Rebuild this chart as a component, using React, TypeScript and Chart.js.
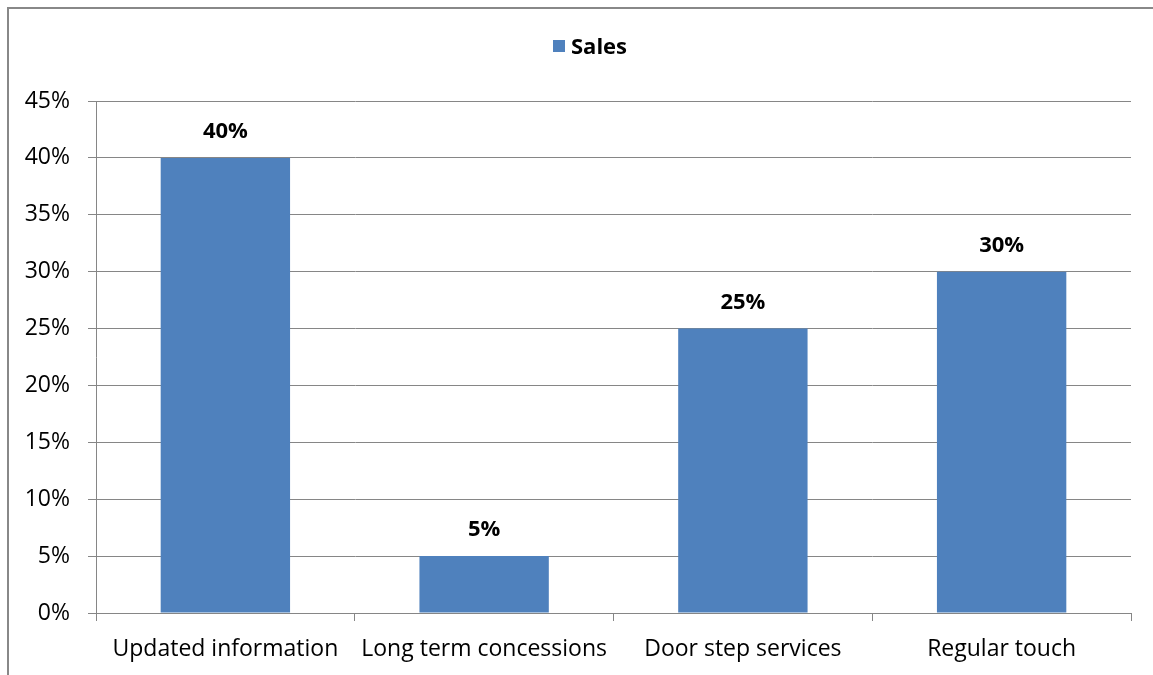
import React, { useEffect, useRef } from "react";
import { Chart, registerables } from "chart.js";

Chart.register(...registerables);

const categories = ["Updated information", "Long term concessions", "Door step services", "Regular touch"];
const seriesName = "Sales";
const salesValues = [40, 5, 25, 30];
const yMin = 0;
const yMax = 45;
const yStep = 5;

const FONT = "'Open Sans', sans-serif";
const FONT_SIZE = 23;
const BOLD_SIZE = 22;
const BAR_COLOR = "#4F81BD";
const GRID_COLOR = "#868686";

const decorPlugin = {
  id: "decor",
  beforeDraw(chart: any) {
    const ctx = chart.ctx;
    ctx.save();
    ctx.fillStyle = "#ffffff";
    ctx.fillRect(0, 0, chart.width, chart.height);
    ctx.strokeStyle = "#888888";
    ctx.lineWidth = 2;
    ctx.beginPath();
    ctx.moveTo(8, chart.height + 5);
    ctx.lineTo(8, 8);
    ctx.lineTo(chart.width + 5, 8);
    ctx.stroke();
    ctx.restore();
  },
  afterDatasetsDraw(chart: any) {
    const ctx = chart.ctx;
    ctx.save();
    // data labels
    const meta = chart.getDatasetMeta(0);
    const ds = chart.data.datasets[0];
    ctx.font = `bold ${BOLD_SIZE}px ${FONT}`;
    ctx.fillStyle = "#000000";
    ctx.textAlign = "center";
    ctx.textBaseline = "middle";
    meta.data.forEach((el: any, i: number) => {
      ctx.fillText(`${ds.data[i]}%`, el.x, el.y - 26);
    });
    // legend
    const label = ds.label;
    const tw = ctx.measureText(label).width;
    const total = 12 + 6 + tw;
    const cx = 590;
    const sx = cx - total / 2;
    ctx.fillStyle = BAR_COLOR;
    ctx.fillRect(Math.round(sx), 40, 12, 12);
    ctx.fillStyle = "#000000";
    ctx.textAlign = "left";
    ctx.fillText(label, sx + 18, 48);
    ctx.restore();
  },
};

export default function App() {
  const ref = useRef<HTMLCanvasElement | null>(null);
  useEffect(() => {
    if (!ref.current) return;
    const chart = new Chart(ref.current, {
      type: "bar",
      data: {
        labels: categories,
        datasets: [
          {
            label: seriesName,
            data: salesValues,
            backgroundColor: BAR_COLOR,
            borderWidth: 0,
            categoryPercentage: 1,
            barPercentage: 0.5,
          },
        ],
      },
      options: {
        responsive: false,
        animation: false,
        layout: { padding: { left: 0, right: 22, top: 101, bottom: 0 } },
        plugins: {
          legend: { display: false },
          tooltip: { enabled: false },
        },
        scales: {
          x: {
            offset: true,
            grid: {
              offset: true,
              drawOnChartArea: false,
              drawTicks: true,
              tickLength: 8,
              color: GRID_COLOR,
            },
            border: { color: GRID_COLOR, width: 1 },
            ticks: {
              color: "#000000",
              font: { family: FONT, size: FONT_SIZE },
              padding: 15,
              maxRotation: 0,
              autoSkip: false,
            },
            afterFit(scale: any) {
              scale.height = 62;
            },
          },
          y: {
            min: yMin,
            max: yMax,
            grid: {
              color: GRID_COLOR,
              tickLength: 8,
            },
            border: { color: GRID_COLOR, width: 1 },
            ticks: {
              stepSize: yStep,
              color: "#000000",
              font: { family: FONT, size: FONT_SIZE },
              padding: 18,
              callback: (v: any) => `${v}%`,
            },
            afterFit(scale: any) {
              scale.width = 96;
            },
          },
        },
      },
      plugins: [decorPlugin],
    });
    return () => chart.destroy();
  }, []);
  return (
    <div style={{ position: "absolute", left: 0, top: 0, width: 1153, height: 675 }}>
      <canvas ref={ref} width={1153} height={675} style={{ display: "block" }} />
    </div>
  );
}
